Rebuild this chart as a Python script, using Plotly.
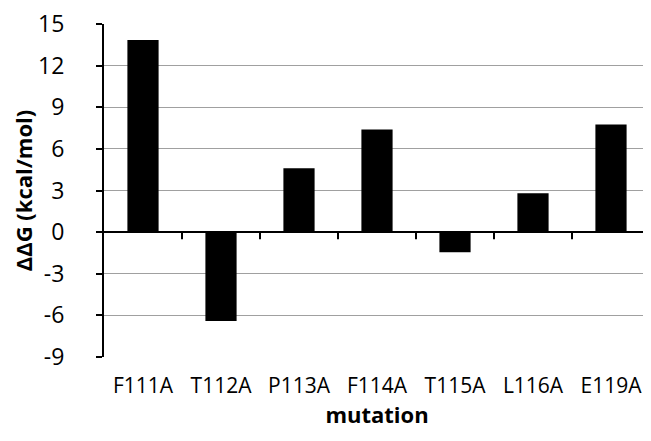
import plotly.graph_objects as go

mutations = ["F111A", "T112A", "P113A", "F114A", "T115A", "L116A", "E119A"]
ddg = [13.85, -6.4, 4.6, 7.4, -1.45, 2.8, 7.75]
y_ticks = [-9, -6, -3, 0, 3, 6, 9, 12, 15]
y_tick_text = ["-9", "-6", "-3", "0", "3", "6", "9", "12", "15"]

FONT = "'Open Sans', sans-serif"
ymin, ymax = -9, 15
idx = list(range(len(mutations)))
boundaries = [i + 0.5 for i in idx[:-1]]

# page body has an 8px margin: figure sits at (8, 8)
fig = go.Figure()
fig.add_trace(go.Bar(x=idx, y=ddg, width=0.4, marker=dict(color="black", line=dict(width=0)),
                     showlegend=False, customdata=mutations,
                     hovertemplate="%{customdata}: %{y}<extra></extra>"))

# category-boundary tick marks hanging below the zero line (axis decoration)
for b in boundaries:
    fig.add_shape(type="line", xref="x", yref="y", x0=b, x1=b,
                  ysizemode="pixel", yanchor=0, y0=0, y1=-7,
                  line=dict(color="black", width=2), layer="above")

fig.update_layout(
    width=643, height=433,
    margin=dict(l=96, r=1, t=16, b=84, autoexpand=False),
    plot_bgcolor="white", paper_bgcolor="white",
    font=dict(family=FONT, color="black"),
    xaxis=dict(range=[-0.5, 6.5], tickvals=idx, ticktext=mutations,
               automargin=False, showline=False, ticks="", showgrid=False, zeroline=False,
               tickfont=dict(size=21, family=FONT), ticklabelstandoff=14,
               title=dict(text="<b>mutation</b>", font=dict(size=22, family=FONT), standoff=3)),
    yaxis=dict(range=[ymin, ymax], tickvals=y_ticks, ticktext=y_tick_text,
               showline=True, linecolor="black", linewidth=2, automargin=False,
               ticks="outside", ticklen=6, tickwidth=2, tickcolor="black",
               showgrid=True, gridcolor="#a0a0a0", gridwidth=1,
               zeroline=True, zerolinecolor="black", zerolinewidth=2,
               tickfont=dict(size=23, family=FONT), ticklabelstandoff=27,
               ticklabeloverflow="allow",
               title=dict(text="<b>ΔΔG (kcal/mol)</b>", font=dict(size=22, family=FONT), standoff=8)),
)

fig.write_html("out.html")
